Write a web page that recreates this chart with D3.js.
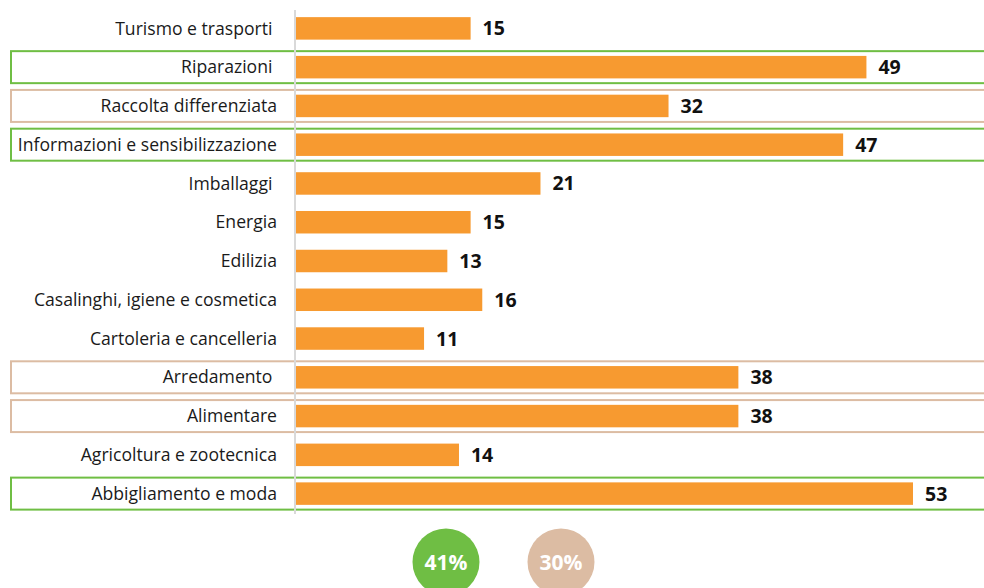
<!DOCTYPE html>
<html>
<head>
<meta charset="utf-8">
<script src="https://cdn.jsdelivr.net/npm/d3@7"></script>
<style>
  body { margin: 0; background: #fff; }
  text { font-family: "Open Sans", sans-serif; }
</style>
</head>
<body>
<div id="chart"></div>
<script>
// categories top to bottom
var categories = ["Turismo e trasporti ", "Riparazioni ", "Raccolta differenziata",
  "Informazioni e sensibilizzazione", "Imballaggi ", "Energia", "Edilizia",
  "Casalinghi, igiene e cosmetica", "Cartoleria e cancelleria", "Arredamento ",
  "Alimentare", "Agricoltura e zootecnica", "Abbigliamento e moda"];
var values = [15, 49, 32, 47, 21, 15, 13, 16, 11, 38, 38, 14, 53];
// highlight group per row: g = green, b = beige, "" = none
var groups = ["", "g", "b", "g", "", "", "", "", "", "b", "b", "", "g"];
var badges = [{ key: "g", label: "41%" }, { key: "b", label: "30%" }];

var width = 984, height = 588;
var groupColor = { g: "#6fbe44", b: "#dcbca3" };

var svg = d3.select("#chart").append("svg")
    .attr("width", width)
    .attr("height", height);

var x = d3.scaleLinear().domain([0, 53]).range([296, 913]);

var y = d3.scaleBand()
    .domain(categories)
    .range([9, 513])
    .paddingInner(0.42)
    .paddingOuter(0.21);

var rows = categories.map(function(c, i) {
  return { name: c, value: values[i], group: groups[i] };
});

// highlight boxes
svg.append("g").selectAll("rect")
    .data(rows.filter(function(d) { return d.group; }))
    .enter().append("rect")
    .attr("x", 11)
    .attr("y", function(d) { return y(d.name) + y.bandwidth() / 2 - 16; })
    .attr("width", 990)
    .attr("height", 32)
    .attr("fill", "none")
    .attr("stroke", function(d) { return groupColor[d.group]; })
    .attr("stroke-width", 2);

// axis line
svg.append("line")
    .attr("x1", 295).attr("x2", 295)
    .attr("y1", 10).attr("y2", 514)
    .attr("stroke", "#d9d9d9")
    .attr("stroke-width", 2);

svg.append("g").selectAll("rect")
    .data(rows)
    .enter().append("rect")
    .attr("x", x(0))
    .attr("y", function(d) { return y(d.name); })
    .attr("width", function(d) { return x(d.value) - x(0); })
    .attr("height", y.bandwidth())
    .attr("fill", "#f79a30");

svg.append("g").selectAll("text")
    .data(rows)
    .enter().append("text")
    .attr("x", 277)
    .attr("y", function(d) { return y(d.name) + y.bandwidth() / 2; })
    .attr("dy", "0.35em")
    .attr("text-anchor", "end")
    .style("white-space", "pre")
    .attr("font-size", 17.6)
    .attr("fill", "#1a1a1a")
    .text(function(d) { return d.name; });

svg.append("g").selectAll("text")
    .data(rows)
    .enter().append("text")
    .attr("x", function(d) { return x(d.value) + 12; })
    .attr("y", function(d) { return y(d.name) + y.bandwidth() / 2; })
    .attr("dy", "0.36em")
    .attr("font-size", 19.5)
    .attr("font-weight", "bold")
    .attr("fill", "#111")
    .text(function(d) { return d.value; });

// badges
var badge = svg.append("g").selectAll("g")
    .data(badges)
    .enter().append("g")
    .attr("transform", function(d, i) { return "translate(" + (446 + i * 115) + ",562)"; });

badge.append("circle")
    .attr("r", 33.5)
    .attr("fill", function(d) { return groupColor[d.key]; });

badge.append("text")
    .attr("text-anchor", "middle")
    .attr("dy", "0.36em")
    .attr("font-size", 21)
    .attr("font-weight", "bold")
    .attr("fill", "#fff")
    .text(function(d) { return d.label; });
</script>
</body>
</html>
